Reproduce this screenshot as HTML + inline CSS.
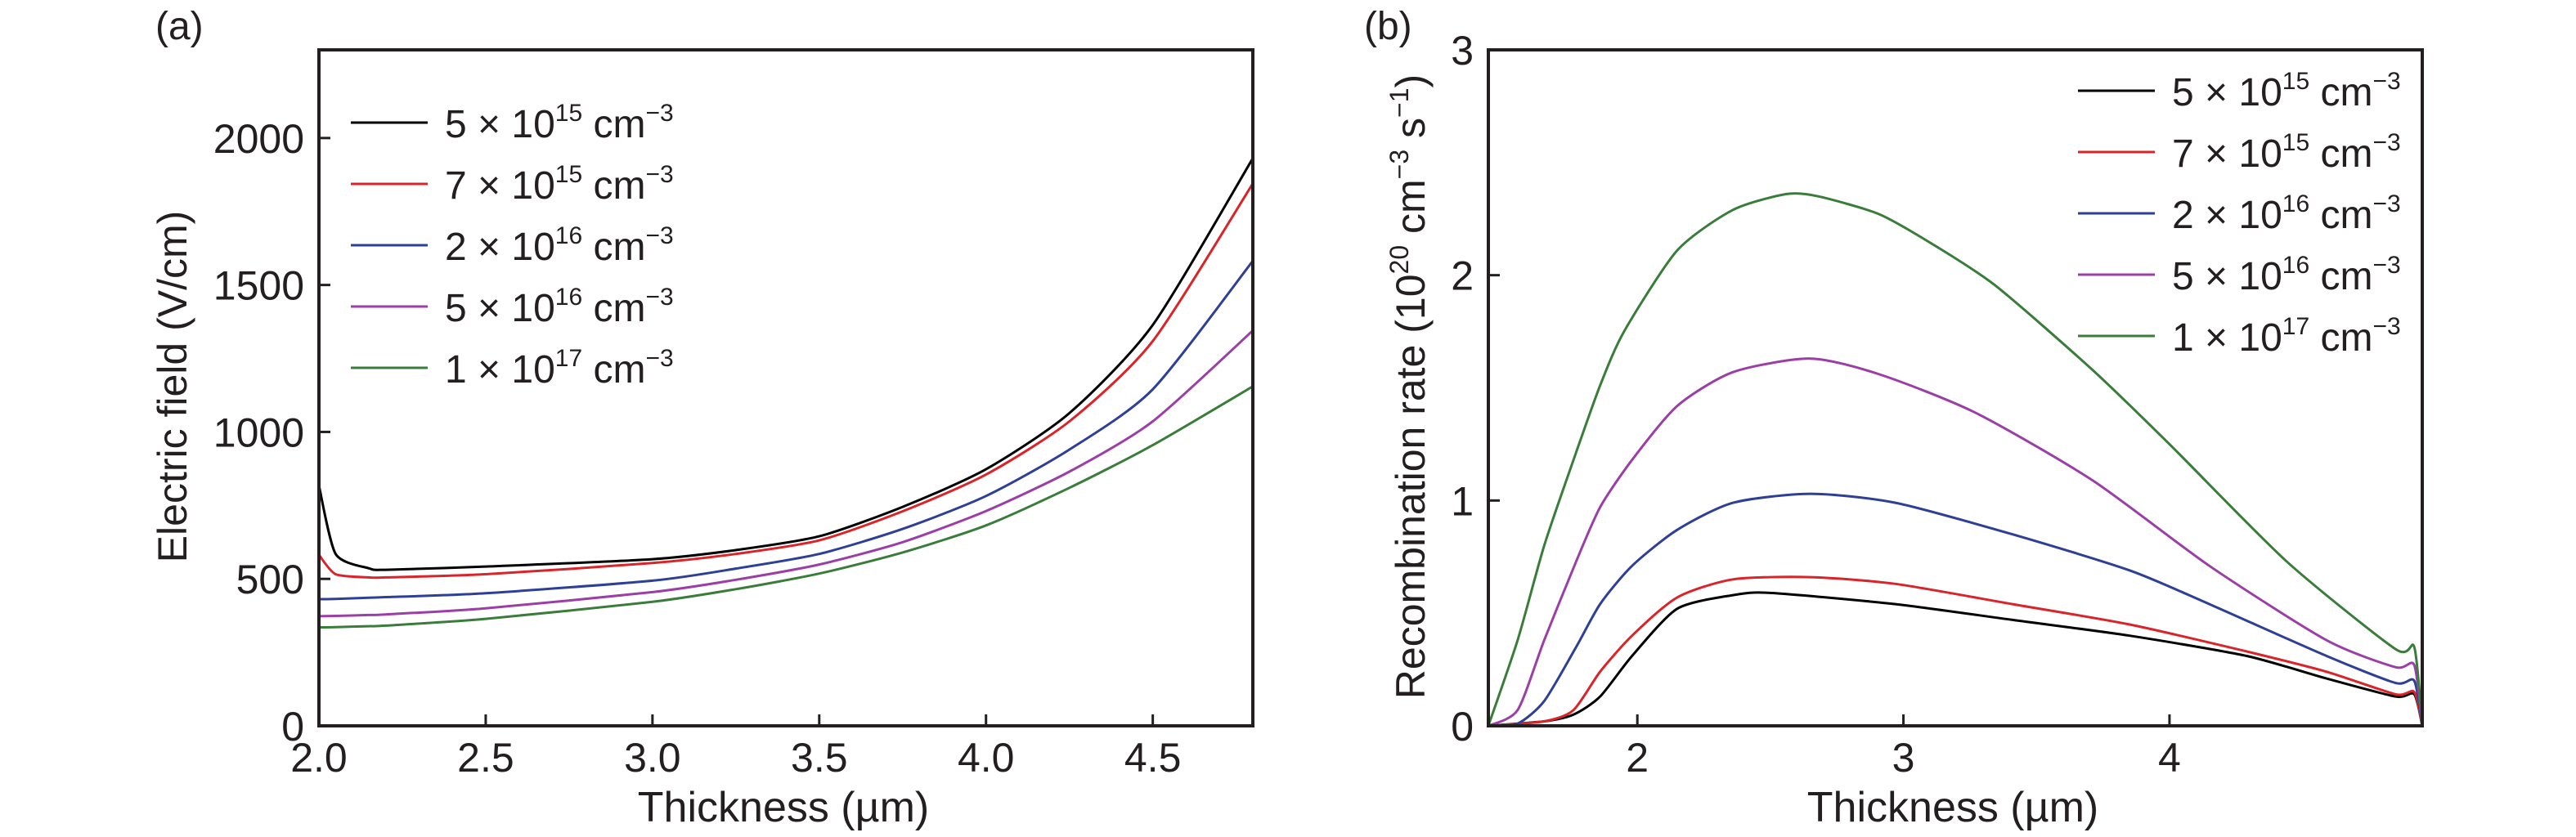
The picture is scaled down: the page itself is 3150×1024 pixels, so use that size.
<!DOCTYPE html>
<html><head><meta charset="utf-8">
<style>
html,body{margin:0;padding:0;background:#fff;}
svg{display:block;font-family:"Liberation Sans",sans-serif;fill:#231f20;}
</style></head>
<body>
<svg id="fig" width="3150" height="1024" viewBox="0 0 3150 1024" xmlns="http://www.w3.org/2000/svg"></svg>
<script>
// ---------- Panel (a) data ----------
const aX = [2.0, 2.05, 2.15, 2.2, 2.5, 3.0, 3.25, 3.5, 3.75, 4.0, 4.25, 4.5, 4.8];
const aBlack  = [818, 585, 536, 531, 542, 567, 598, 645, 745, 873, 1064, 1364, 1931];
const aRed    = [582, 516, 505, 505, 516, 554, 585, 631, 730, 855, 1036, 1309, 1845];
const aBlue   = [431, 432, 436, 438, 451, 494, 535, 585, 670, 782, 940, 1145, 1582];
const aPurple = [373, 374, 377, 379, 400, 455, 497, 549, 625, 731, 865, 1036, 1345];
const aGreen  = [335, 336, 339, 341, 364, 422, 465, 518, 590, 682, 810, 955, 1155];
const aXTicks = [2.0, 2.5, 3.0, 3.5, 4.0, 4.5];
const aXTickLabels = ["2.0","2.5","3.0","3.5","4.0","4.5"];
const aYTicks = [0, 500, 1000, 1500, 2000];

// ---------- Panel (b) data ----------
const bGreenX  = [1.44,1.55,1.65,1.76,1.86,1.95,2.15,2.36,2.56,2.68,2.91,3.12,3.35,3.71,4.0,4.44,4.85,4.92,4.95];
const bGreenY  = [0,0.38,0.80,1.18,1.51,1.75,2.11,2.29,2.36,2.35,2.27,2.13,1.95,1.58,1.25,0.73,0.34,0.35,0];
const bPurpleX = [1.44,1.55,1.65,1.77,1.86,1.98,2.15,2.36,2.65,2.91,3.27,3.71,4.15,4.59,4.85,4.92,4.95];
const bPurpleY = [0,0.07,0.38,0.73,0.97,1.18,1.42,1.57,1.63,1.56,1.39,1.09,0.71,0.38,0.26,0.27,0];
const bBlueX   = [1.44,1.55,1.65,1.77,1.86,1.98,2.15,2.36,2.65,2.97,3.41,3.85,4.15,4.59,4.85,4.92,4.95];
const bBlueY   = [0,0.01,0.11,0.35,0.54,0.71,0.87,0.99,1.03,0.99,0.85,0.69,0.54,0.31,0.19,0.20,0];
const bRedX    = [1.44,1.65,1.76,1.86,1.98,2.15,2.36,2.65,2.97,3.41,3.85,4.29,4.59,4.85,4.92,4.95];
const bRedY    = [0,0.02,0.07,0.24,0.40,0.57,0.65,0.66,0.63,0.54,0.45,0.33,0.24,0.14,0.15,0];
const bBlackX  = [1.44,1.65,1.76,1.86,1.98,2.15,2.36,2.5,2.97,3.41,3.85,4.29,4.59,4.85,4.92,4.95];
const bBlackY  = [0,0.02,0.05,0.13,0.31,0.52,0.58,0.59,0.54,0.47,0.40,0.31,0.21,0.13,0.14,0];
const bXTicks = [2, 3, 4];
const bYTicks = [0, 1, 2, 3];

const legendMant = ["5","7","2","5","1"];
const legendExp  = ["15","15","16","16","17"];
const colors = ["#000000","#d9252a","#2e3f97","#9b3fa6","#3a7d3a"];

const NS = "http://www.w3.org/2000/svg";
const svg = document.getElementById("fig");
function mk(tag, attrs, parent){
  const e = document.createElementNS(NS, tag);
  for (const k in attrs) e.setAttribute(k, attrs[k]);
  (parent||svg).appendChild(e);
  return e;
}
function smoothPath(pts){
  let d = "M" + pts[0][0].toFixed(1) + "," + pts[0][1].toFixed(1);
  for (let i=0;i<pts.length-1;i++){
    const p0 = pts[Math.max(0,i-1)], p1 = pts[i], p2 = pts[i+1], p3 = pts[Math.min(pts.length-1,i+2)];
    const t = 0.12;
    const c1x = p1[0] + (p2[0]-p0[0])*t, c1y = p1[1] + (p2[1]-p0[1])*t;
    const c2x = p2[0] - (p3[0]-p1[0])*t, c2y = p2[1] - (p3[1]-p1[1])*t;
    d += " C" + c1x.toFixed(1)+","+c1y.toFixed(1)+" "+c2x.toFixed(1)+","+c2y.toFixed(1)+" "+p2[0].toFixed(1)+","+p2[1].toFixed(1);
  }
  return d;
}

function panel(cfg){
  const g = mk("g", {});
  
  
  const sx = v => cfg.L + (v - cfg.xmin)/(cfg.xmax-cfg.xmin)*(cfg.R-cfg.L);
  const sy = v => cfg.B - (v - cfg.ymin)/(cfg.ymax-cfg.ymin)*(cfg.B-cfg.T);
  cfg.series.forEach((s, i) => {
    const pts = s.x.map((xv, j) => [sx(xv), sy(s.y[j])]);
    const p = mk("path", {d: smoothPath(pts), fill:"none", stroke: colors[i], "stroke-width": 3, "stroke-linejoin":"round"}, g);
    
    
  });
  const fr = mk("rect", {x: cfg.L, y: cfg.T, width: cfg.R-cfg.L, height: cfg.B-cfg.T, fill:"none", stroke:"#231f20", "stroke-width":4}, g);
  
  
  cfg.xTicks.forEach((t, i) => {
    const x = sx(t);
    const tk = mk("line", {x1:x, x2:x, y1:cfg.B, y2:cfg.B-14, stroke:"#231f20", "stroke-width":3}, g);
    
    
    const tl = mk("text", {x:x, y:cfg.B+56, "font-size":50, "text-anchor":"middle"}, g);
    tl.textContent = cfg.xLabels[i];
    
    
  });
  cfg.yTicks.forEach(t => {
    const y = sy(t);
    const tk = mk("line", {x1:cfg.L, x2:cfg.L+14, y1:y, y2:y, stroke:"#231f20", "stroke-width":3}, g);
    
    
    const tl = mk("text", {x:cfg.L-18, y:y+18, "font-size":50, "text-anchor":"end"}, g);
    tl.textContent = String(t);
    
    
  });
  cfg.series.forEach((s, i) => {
    const y = cfg.legY + i*75;
    const ln = mk("line", {x1:cfg.legX, x2:cfg.legX+94, y1:y, y2:y, stroke:colors[i], "stroke-width":3}, g);
    
    
    const tx = mk("text", {x:cfg.legX+115, y:y+18, "font-size":48}, g);
    
    
    tx.appendChild(document.createTextNode(legendMant[i] + " \u00d7 10"));
    const e1 = mk("tspan", {"font-size":30, dy:-20}, tx); e1.textContent = legendExp[i];
    const c = mk("tspan", {dy:20}, tx); c.textContent = " cm";
    const e2 = mk("tspan", {"font-size":30, dy:-20}, tx); e2.textContent = "\u22123";
  });
  const xt = mk("text", {x: cfg.xTitleX, y: 1005, "font-size":52, "text-anchor":"middle"}, g);
  xt.textContent = "Thickness (\u00b5m)";
  
  
  const pl = mk("text", {x: cfg.labX, y: 48, "font-size":48}, g);
  pl.textContent = cfg.label;
  
  
  return g;
}

const ga = panel({name:"panel-a-electric-field", L:390, R:1532, T:61, B:888, xmin:2.0, xmax:4.8, ymin:0, ymax:2300,
  series:[{x:aX,y:aBlack},{x:aX,y:aRed},{x:aX,y:aBlue},{x:aX,y:aPurple},{x:aX,y:aGreen}],
  xTicks:aXTicks, xLabels:aXTickLabels, yTicks:aYTicks, legX:429, legY:150, xTitleX:958, labX:190, label:"(a)"});
const yta = mk("text", {x:0, y:0, "font-size":50, "text-anchor":"middle", transform:"translate(228,473) rotate(-90)"}, ga);
yta.textContent = "Electric field (V/cm)";



const gb = panel({name:"panel-b-recombination-rate", L:1820, R:2962, T:61, B:888, xmin:1.44, xmax:4.95, ymin:0, ymax:3,
  series:[{x:bBlackX,y:bBlackY},{x:bRedX,y:bRedY},{x:bBlueX,y:bBlueY},{x:bPurpleX,y:bPurpleY},{x:bGreenX,y:bGreenY}],
  xTicks:bXTicks, xLabels:bXTicks.map(String), yTicks:bYTicks, legX:2541, legY:111, xTitleX:2388, labX:1668, label:"(b)"});
const ytb = mk("text", {x:0, y:0, "font-size":50, "text-anchor":"middle", transform:"translate(1742,473) rotate(-90)"}, gb);


ytb.appendChild(document.createTextNode("Recombination rate (10"));
const s1 = mk("tspan", {"font-size":32, dy:-20}, ytb); s1.textContent = "20";
const s2 = mk("tspan", {dy:20}, ytb); s2.textContent = " cm";
const s3 = mk("tspan", {"font-size":32, dy:-20}, ytb); s3.textContent = "\u22123";
const s4 = mk("tspan", {dy:20}, ytb); s4.textContent = " s";
const s5 = mk("tspan", {"font-size":32, dy:-20}, ytb); s5.textContent = "\u22121";
const s6 = mk("tspan", {dy:20}, ytb); s6.textContent = ")";
</script>
</body></html>
